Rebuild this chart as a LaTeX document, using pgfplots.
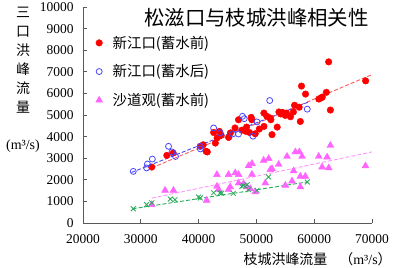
\documentclass[border=0pt]{standalone}
\usepackage{fontspec}
\setmainfont{Liberation Serif}
\newfontfamily\cjk{Noto Sans CJK SC}
\usepackage{pgfplots}
\pgfplotsset{compat=1.18}
\definecolor{cred}{RGB}{255,0,0}
\definecolor{credl}{RGB}{255,90,90}
\definecolor{cblue}{RGB}{70,70,255}
\definecolor{cmag}{RGB}{255,100,255}
\definecolor{cmagl}{RGB}{255,150,255}
\definecolor{cgreen}{RGB}{40,170,90}
\begin{document}
\begin{tikzpicture}
\useasboundingbox (-83bp,-45bp) rectangle (314bp,223bp);
\begin{axis}[at={(0,0)}, anchor=south west, scale only axis,
  width=289bp, height=216bp,
  xmin=20000, xmax=70000, ymin=0, ymax=10000,
  axis lines*=left, tick align=inside,
  xtick={20000,30000,...,70000}, ytick={0,1000,...,10000},
  scaled ticks=false,
  /pgf/number format/1000 sep={},
  /pgf/number format/assume math mode=true,
  axis line style={draw=black!65, line width=0.8pt},
  tick style={draw=black!65, line width=0.8pt},
  major tick length=4bp,
  ticklabel style={font=\fontsize{13.5}{14}\selectfont},
  yticklabel style={xshift=-6bp},
  xticklabel style={yshift=-8bp},
  legend cell align=left,
  legend style={draw=none, fill=none, at={(0.033,0.885)}, anchor=north west,
    font=\cjk\fontsize{14.5}{14.5}\selectfont, row sep=11bp},
]
% 新江口 蓄水前
\addplot[only marks, mark=*, mark size=3.3bp, color=cred] coordinates {
(31900,2590) (34500,3130) (35600,3240) (40300,3550) (40800,3620) (41300,3320)
(41500,3290) (42600,4190) (42900,3700) (43200,3940) (43600,4240) (43900,4060)
(45200,3960) (45500,4170) (46300,4400) (46900,4780) (47500,4300) (48300,4440)
(48200,4240) (48800,4190) (49100,4890) (49200,4780) (49800,4130) (50500,4350)
(51300,5090) (51300,4470) (51800,4940) (52400,4860) (52500,4780) (52700,4090)
(53600,4440) (53900,5140) (54200,5050) (54500,5120) (55000,4980) (55200,5090)
(55900,4920) (56400,5140) (56600,5450) (57400,5360) (57600,4700) (57800,6340)
(58500,5970) (60800,5740) (61200,5790) (61400,5830) (62100,6050) (62500,7460)
(62800,5230) (68900,6580)
};
\addlegendentry{\hspace{8bp}新江口(蓄水前)}
% 新江口 蓄水后
\addplot[only marks, mark=o, mark size=3bp, line width=0.8pt, color=cblue] coordinates {
(28700,2390) (31000,2550) (31150,2730) (32000,2960) (34800,3550) (35400,3290)
(36000,3080) (40300,3550) (40300,3430) (42600,4400) (43750,4170) (45900,4120)
(46900,4120) (47600,4940) (47900,4830) (49400,4020) (50100,4680) (52300,5670)
(58800,5270)
};
\addlegendentry{\hspace{8bp}新江口(蓄水后)}
% 沙道观 蓄水前
\addplot[only marks, mark=triangle*, mark size=4bp, color=cmag] coordinates {
(31900,850) (34200,1510) (35650,1510) (41400,1050) (43170,2240) (43170,1700)
(43460,1540) (45180,2240) (45180,1540) (45470,1670) (46340,2320) (46920,2240)
(46920,1850) (47780,1820) (48360,1670) (48650,2650) (48940,1590) (49230,2750)
(49230,2250) (49810,1440) (51250,2900) (51540,1850) (52120,2980) (52410,2470)
(52700,2510) (53850,2710) (55010,1740) (55300,3080) (56170,1940) (56440,2410)
(56740,3290) (57430,3290) (57600,2160) (57600,1670) (57900,3080) (58470,2160)
(60780,3080) (61370,2590) (62230,3050) (62510,2550) (62800,3590) (68870,2640)
};
\addlegendentry{\hspace{8bp}沙道观(蓄水前)}
% 沙道观 蓄水后
\addplot[only marks, mark=x, mark size=3.5bp, line width=0.8pt, color=cgreen, forget plot] coordinates {
(28700,660) (31000,850) (31900,930) (35100,1110) (35900,1080) (40000,1200)
(40300,1160) (42600,1400) (43700,1390) (44000,1380) (46000,1370) (47500,1700)
(47800,1740) (48400,1770) (48650,1540) (50100,1510) (52100,2130) (58800,1900)
};
% trend lines
\addplot[credl, line width=0.9pt, dash pattern=on 4bp off 2bp, forget plot] coordinates {(31900,2550) (70000,6870)};
\addplot[cblue, line width=0.9pt, dash pattern=on 4bp off 2bp, forget plot] coordinates {(28400,2340) (59300,5630)};
\addplot[cmagl, line width=0.9pt, dash pattern=on 4bp off 2bp, forget plot] coordinates {(31900,1150) (70000,3290)};
\addplot[cgreen, line width=0.9pt, dash pattern=on 4bp off 2bp, forget plot] coordinates {(28600,660) (58800,1900)};
\end{axis}
\node[font=\cjk\fontsize{20.5}{21}\selectfont, inner sep=0] at (173.5bp,205bp) {松滋口与枝城洪峰相关性};
\node[font=\cjk\fontsize{14}{19}\selectfont, align=center, inner sep=0] at (-60bp,162.5bp) {三\\口\\洪\\峰\\流\\量};
\node[font=\fontsize{14}{14}\selectfont, inner sep=0] at (-60bp,77bp) {(m³/s)};
\node[font=\cjk\fontsize{14}{14}\selectfont, inner sep=0] at (202.5bp,-36bp) {枝城洪峰流量};
\node[font=\fontsize{14}{14}\selectfont, inner sep=0] at (282.5bp,-36bp) {{\cjk （}m³/s{\cjk ）}};
\end{tikzpicture}
\end{document}
